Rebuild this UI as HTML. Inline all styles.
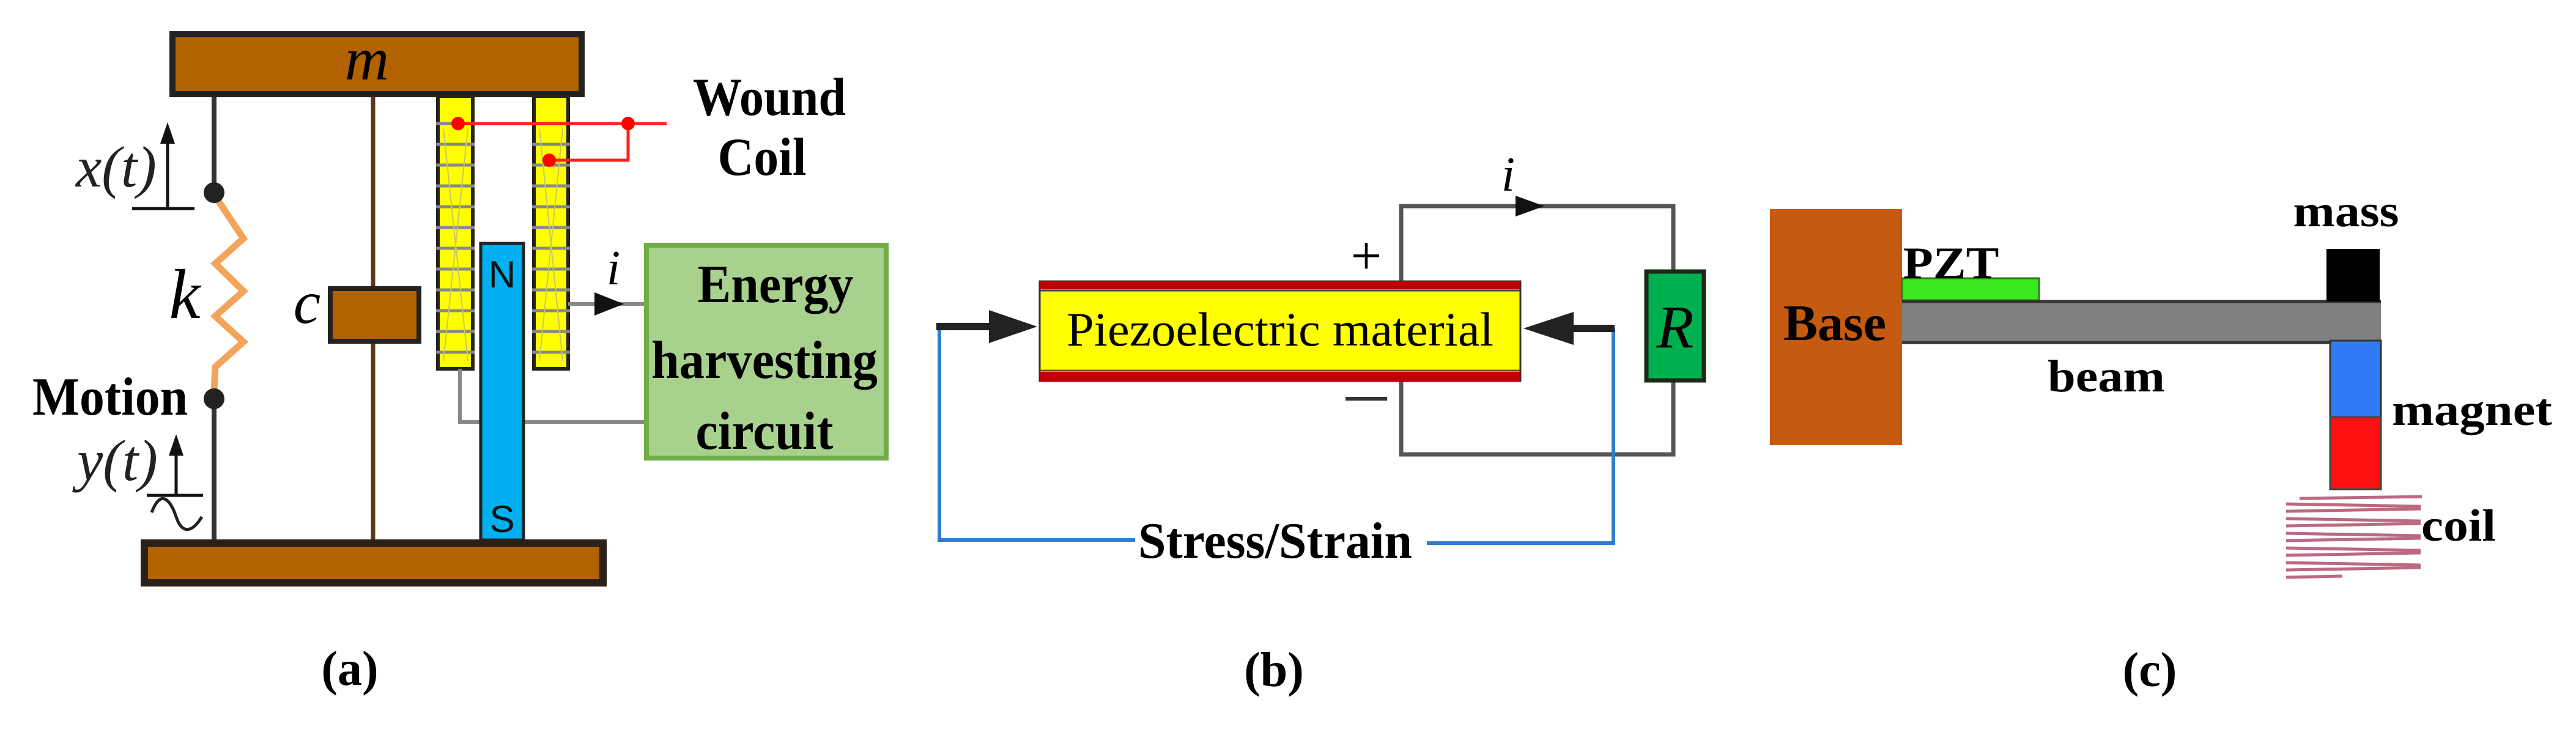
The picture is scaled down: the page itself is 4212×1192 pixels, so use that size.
<!DOCTYPE html>
<html><head><meta charset="utf-8"><style>html,body{margin:0;padding:0;background:#fff}svg{display:block}</style></head>
<body>
<svg xmlns="http://www.w3.org/2000/svg" width="4212" height="1192" viewBox="0 0 4212 1192" font-family="'Liberation Serif', serif">
<rect width="4212" height="1192" fill="#fff"/>
<!-- ===== Panel (a) ===== -->
<!-- rods -->
<line x1="350" y1="157" x2="350" y2="885" stroke="#333" stroke-width="8"/>
<line x1="610" y1="157" x2="610" y2="885" stroke="#5a3a1a" stroke-width="7"/>
<!-- top mass -->
<rect x="282" y="56" width="669" height="98" fill="#b36200" stroke="#222" stroke-width="10"/>
<text x="600" y="130" font-size="100" font-style="italic" text-anchor="middle">m</text>
<!-- spring region: white cover over rod -->
<line x1="350" y1="318" x2="350" y2="650" stroke="#fff" stroke-width="12"/>
<polyline points="350,318 398,390 352,431 398,476 352,517 398,559 352,600 350,640 350,652" fill="none" stroke="#f2a55a" stroke-width="11" stroke-linejoin="miter"/>
<circle cx="350" cy="315" r="17" fill="#222"/>
<circle cx="350" cy="652" r="17" fill="#222"/>
<!-- x(t) -->
<text x="190" y="305" font-size="95" font-style="italic" text-anchor="middle" fill="#222">x(t)</text>
<line x1="274" y1="341" x2="274" y2="225" stroke="#111" stroke-width="5"/>
<polygon points="274,200 262,235 286,235" fill="#111"/>
<line x1="216" y1="341" x2="318" y2="341" stroke="#111" stroke-width="5"/>
<!-- k -->
<text x="302" y="520" font-size="115" font-style="italic" text-anchor="middle">k</text>
<text x="180" y="678" font-size="88" font-weight="bold" text-anchor="middle" textLength="254" lengthAdjust="spacingAndGlyphs">Motion</text>
<!-- y(t) -->
<text x="192" y="785" font-size="95" font-style="italic" text-anchor="middle" fill="#222">y(t)</text>
<line x1="288" y1="810" x2="288" y2="735" stroke="#111" stroke-width="5"/>
<polygon points="288,710 276,745 300,745" fill="#111"/>
<line x1="240" y1="810" x2="332" y2="810" stroke="#111" stroke-width="5"/>
<path d="M248,838 C262,800 278,815 288,845 C298,875 315,870 330,845" fill="none" stroke="#222" stroke-width="5"/>
<!-- damper -->
<rect x="540" y="472" width="145" height="86" fill="#b36200" stroke="#222" stroke-width="8"/>
<text x="502" y="528" font-size="100" font-style="italic" text-anchor="middle">c</text>
<!-- coils -->
<g stroke="#222" stroke-width="6" fill="#ffff00">
<rect x="716" y="157" width="57" height="446"/>
<rect x="873" y="157" width="56" height="446"/>
</g>
<g stroke="#888" stroke-width="5">
<line x1="713" y1="202" x2="776" y2="202"/><line x1="870" y1="202" x2="932" y2="202"/>
<line x1="713" y1="236" x2="776" y2="236"/><line x1="870" y1="236" x2="932" y2="236"/>
<line x1="713" y1="270" x2="776" y2="270"/><line x1="870" y1="270" x2="932" y2="270"/>
<line x1="713" y1="304" x2="776" y2="304"/><line x1="870" y1="304" x2="932" y2="304"/>
<line x1="713" y1="338" x2="776" y2="338"/><line x1="870" y1="338" x2="932" y2="338"/>
<line x1="713" y1="372" x2="776" y2="372"/><line x1="870" y1="372" x2="932" y2="372"/>
<line x1="713" y1="406" x2="776" y2="406"/><line x1="870" y1="406" x2="932" y2="406"/>
<line x1="713" y1="440" x2="776" y2="440"/><line x1="870" y1="440" x2="932" y2="440"/>
<line x1="713" y1="474" x2="776" y2="474"/><line x1="870" y1="474" x2="932" y2="474"/>
<line x1="713" y1="508" x2="776" y2="508"/><line x1="870" y1="508" x2="932" y2="508"/>
<line x1="713" y1="542" x2="776" y2="542"/><line x1="870" y1="542" x2="932" y2="542"/>
<line x1="713" y1="576" x2="776" y2="576"/><line x1="870" y1="576" x2="932" y2="576"/>
</g>
<g stroke="#c8c860" stroke-width="2">
<line x1="725" y1="210" x2="765" y2="590"/><line x1="765" y1="210" x2="725" y2="590"/>
<line x1="882" y1="210" x2="920" y2="590"/><line x1="920" y1="210" x2="882" y2="590"/>
</g>
<!-- grey wires -->
<polyline points="752,603 752,690 790,690" fill="none" stroke="#888" stroke-width="6"/>
<line x1="855" y1="690" x2="1056" y2="690" stroke="#888" stroke-width="6"/>
<line x1="929" y1="497" x2="1056" y2="497" stroke="#888" stroke-width="6"/>
<polygon points="972,478 1020,497 972,516" fill="#111"/>
<text x="1003" y="465" font-size="80" font-style="italic" text-anchor="middle">i</text>
<!-- magnet -->
<rect x="786" y="398" width="70" height="485" fill="#00b0f0" stroke="#222" stroke-width="5"/>
<text x="821" y="470" font-size="62" font-family="'Liberation Sans', sans-serif" text-anchor="middle" fill="#111">N</text>
<text x="821" y="870" font-size="62" font-family="'Liberation Sans', sans-serif" text-anchor="middle" fill="#111">S</text>
<!-- base -->
<rect x="236" y="888" width="750" height="65" fill="#b36200" stroke="#2a2018" stroke-width="12"/>
<!-- red wires -->
<polyline points="749,202 1090,202" fill="none" stroke="#ff2020" stroke-width="5"/>
<polyline points="1027,202 1027,262 898,262" fill="none" stroke="#ff2020" stroke-width="5"/>
<circle cx="749" cy="202" r="11" fill="#ff0000"/>
<circle cx="1027" cy="202" r="11" fill="#ff0000"/>
<circle cx="898" cy="262" r="11" fill="#ff0000"/>
<text x="1258" y="188" font-size="88" font-weight="bold" text-anchor="middle" textLength="250" lengthAdjust="spacingAndGlyphs">Wound</text>
<text x="1246" y="286" font-size="88" font-weight="bold" text-anchor="middle" textLength="145" lengthAdjust="spacingAndGlyphs">Coil</text>
<!-- energy box -->
<rect x="1057" y="401" width="392" height="348" fill="#a9d18e" stroke="#70ad47" stroke-width="8"/>
<text x="1268" y="494" font-size="88" font-weight="bold" text-anchor="middle" textLength="255" lengthAdjust="spacingAndGlyphs">Energy</text>
<text x="1250" y="618" font-size="88" font-weight="bold" text-anchor="middle" textLength="370" lengthAdjust="spacingAndGlyphs">harvesting</text>
<text x="1250" y="734" font-size="88" font-weight="bold" text-anchor="middle" textLength="225" lengthAdjust="spacingAndGlyphs">circuit</text>
<text x="572" y="1120" font-size="80" font-weight="bold" text-anchor="middle">(a)</text>

<!-- ===== Panel (b) ===== -->
<!-- circuit wires -->
<polyline points="2291,462 2291,337 2736,337 2736,445" fill="none" stroke="#555" stroke-width="7"/>
<polyline points="2291,624 2291,743 2736,743 2736,622" fill="none" stroke="#555" stroke-width="7"/>
<polygon points="2478,320 2525,337 2478,354" fill="#111"/>
<text x="2466" y="312" font-size="80" font-style="italic" text-anchor="middle">i</text>
<rect x="2692" y="444" width="94" height="178" fill="#00b050" stroke="#1a2a1a" stroke-width="7"/>
<text x="2739" y="568" font-size="100" font-style="italic" text-anchor="middle">R</text>
<text x="2234" y="448" font-size="90" text-anchor="middle">+</text>
<line x1="2200" y1="652" x2="2268" y2="652" stroke="#333" stroke-width="6"/>
<!-- piezo -->
<rect x="1700" y="460" width="786" height="163" fill="#ffff00" stroke="#333" stroke-width="3"/>
<rect x="1700" y="460" width="786" height="13" fill="#c00000"/>
<line x1="1700" y1="475" x2="2486" y2="475" stroke="#444" stroke-width="3"/>
<rect x="1700" y="608" width="786" height="15" fill="#c00000"/>
<line x1="1700" y1="606" x2="2486" y2="606" stroke="#6a5a00" stroke-width="3"/>
<text x="2093" y="565" font-size="78" text-anchor="middle" textLength="698" lengthAdjust="spacingAndGlyphs">Piezoelectric material</text>
<!-- blue stress path -->
<polyline points="1536,534 1536,883 1856,883" fill="none" stroke="#2e7fd0" stroke-width="6"/>
<polyline points="2333,888 2638,888 2638,537" fill="none" stroke="#2e7fd0" stroke-width="6"/>
<text x="2085" y="912" font-size="84" font-weight="bold" text-anchor="middle" textLength="448" lengthAdjust="spacingAndGlyphs">Stress/Strain</text>
<!-- force arrows -->
<line x1="1531" y1="534" x2="1625" y2="534" stroke="#222" stroke-width="12"/>
<polygon points="1617,507 1696,534 1617,561" fill="#222"/>
<line x1="2640" y1="537" x2="2565" y2="537" stroke="#222" stroke-width="12"/>
<polygon points="2573,510 2491,537 2573,564" fill="#222"/>
<text x="2083" y="1122" font-size="80" font-weight="bold" text-anchor="middle">(b)</text>

<!-- ===== Panel (c) ===== -->
<rect x="2894" y="342" width="216" height="386" fill="#c55a11"/>
<text x="3000" y="556" font-size="84" font-weight="bold" text-anchor="middle" textLength="168" lengthAdjust="spacingAndGlyphs">Base</text>
<rect x="3110" y="455" width="224" height="36" fill="#3de81f" stroke="#2a7a1a" stroke-width="3"/>
<text x="3190" y="455" font-size="74" font-weight="bold" text-anchor="middle" textLength="157" lengthAdjust="spacingAndGlyphs">PZT</text>
<rect x="3110" y="492" width="783" height="68" fill="#808080"/>
<line x1="3110" y1="493" x2="3893" y2="493" stroke="#333" stroke-width="5"/>
<line x1="3110" y1="560" x2="3893" y2="560" stroke="#333" stroke-width="5"/>
<rect x="3804" y="407" width="87" height="86" fill="#000"/>
<text x="3836" y="370" font-size="74" font-weight="bold" text-anchor="middle" textLength="173" lengthAdjust="spacingAndGlyphs">mass</text>
<text x="3444" y="640" font-size="74" font-weight="bold" text-anchor="middle" textLength="192" lengthAdjust="spacingAndGlyphs">beam</text>
<rect x="3810" y="557" width="83" height="125" fill="#2f7bf5" stroke="#333" stroke-width="3"/>
<rect x="3810" y="682" width="83" height="118" fill="#ff1010" stroke="#444" stroke-width="3"/>
<text x="4042" y="695" font-size="74" font-weight="bold" text-anchor="middle" textLength="262" lengthAdjust="spacingAndGlyphs">magnet</text>
<g stroke="#b0506a" stroke-width="5" opacity="0.85">
<line x1="3760" y1="815" x2="3960" y2="812"/>
<line x1="3738" y1="824" x2="3958" y2="828"/>
<line x1="3738" y1="836" x2="3958" y2="832"/>
<line x1="3738" y1="848" x2="3958" y2="852"/>
<line x1="3738" y1="860" x2="3958" y2="856"/>
<line x1="3738" y1="872" x2="3958" y2="876"/>
<line x1="3738" y1="884" x2="3958" y2="880"/>
<line x1="3738" y1="896" x2="3958" y2="900"/>
<line x1="3738" y1="908" x2="3958" y2="904"/>
<line x1="3738" y1="920" x2="3958" y2="924"/>
<line x1="3738" y1="932" x2="3958" y2="928"/>
<line x1="3738" y1="944" x2="3830" y2="942"/>
</g>
<text x="4020" y="884" font-size="74" font-weight="bold" text-anchor="middle" textLength="122" lengthAdjust="spacingAndGlyphs">coil</text>
<text x="3515" y="1122" font-size="80" font-weight="bold" text-anchor="middle">(c)</text>
</svg>
</body></html>
